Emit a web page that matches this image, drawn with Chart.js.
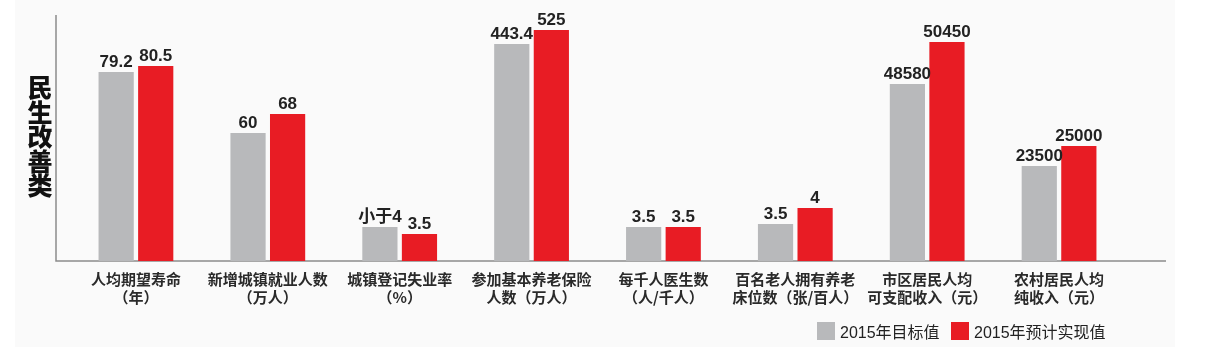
<!DOCTYPE html>
<html>
<head>
<meta charset="utf-8">
<script src="https://cdn.jsdelivr.net/npm/chart.js@4/dist/chart.umd.min.js"></script>
<style>
  html, body { margin: 0; padding: 0; background: #fff; }
  #wrap { position: relative; width: 1221px; height: 347px; }
  #title {
    position: absolute; left: 27px; top: 74px; width: 26px;
    font: 900 25px "Noto Sans CJK SC", sans-serif; line-height: 24.5px;
    color: #111; text-align: center;
  }
  .legend-item { position: absolute; top: 322px; height: 18px; display: flex; align-items: center;
    font: 16px "Liberation Sans", "Noto Sans CJK SC", sans-serif; color: #222; }
  .legend-item span.box { display: inline-block; width: 18px; height: 18px; margin-right: 5px; }
</style>
</head>
<body>
<div id="wrap">
  <canvas id="chart" width="1221" height="347"></canvas>
  <div id="title">民<br>生<br>改<br>善<br>类</div>
  <div class="legend-item" style="left:817px"><span class="box" style="background:#b8b9bb"></span>2015年目标值</div>
  <div class="legend-item" style="left:951px"><span class="box" style="background:#e81c24"></span>2015年预计实现值</div>
</div>
<script>
// categories (two lines each)
const categories = [
  ['人均期望寿命', '（年）'],
  ['新增城镇就业人数', '（万人）'],
  ['城镇登记失业率', '（%）'],
  ['参加基本养老保险', '人数（万人）'],
  ['每千人医生数', '（人/千人）'],
  ['百名老人拥有养老', '床位数（张/百人）'],
  ['市区居民人均', '可支配收入（元）'],
  ['农村居民人均', '纯收入（元）']
];

// value labels shown above the bars
const targetLabels = ['79.2', '60', '小于4', '443.4', '3.5', '3.5', '48580', '23500'];
const actualLabels = ['80.5', '68', '3.5', '525', '3.5', '4', '50450', '25000'];

// bar heights as drawn in the infographic (each category has its own scale; axis 0-246)
const targetHeights = [189, 128, 34, 217, 34, 37, 177, 95];
const actualHeights = [195, 147, 27, 231, 34, 53, 219, 115];

const seriesNames = ['2015年目标值', '2015年预计实现值'];
const GRAY = '#b8b9bb';
const RED = '#e81c24';

// paper background
const bgPlugin = {
  id: 'bg',
  beforeDraw(chart) {
    const ctx = chart.ctx;
    ctx.save();
    ctx.fillStyle = '#fafafa';
    ctx.fillRect(15, 0, 1160, chart.height);
    ctx.restore();
  }
};

// axis lines (y axis sits a bit left of the first group, x axis runs past the last)
const axisPlugin = {
  id: 'axes',
  beforeDatasetsDraw(chart) {
    const { ctx, chartArea } = chart;
    const x0 = chartArea.left - 14;
    ctx.save();
    ctx.strokeStyle = '#8c8c8c';
    ctx.lineWidth = 1.5;
    ctx.beginPath();
    ctx.moveTo(x0, chartArea.top);
    ctx.lineTo(x0, chartArea.bottom);
    ctx.lineTo(chartArea.right + 41, chartArea.bottom);
    ctx.stroke();
    ctx.restore();
  }
};

// value labels on top of bars
const valuePlugin = {
  id: 'values',
  afterDatasetsDraw(chart) {
    const ctx = chart.ctx;
    const labelSets = [targetLabels, actualLabels];
    ctx.save();
    ctx.font = 'bold 17px "Liberation Sans", "Noto Sans CJK SC", sans-serif';
    ctx.fillStyle = '#222';
    ctx.textAlign = 'center';
    ctx.textBaseline = 'alphabetic';
    chart.data.datasets.forEach((ds, di) => {
      chart.getDatasetMeta(di).data.forEach((bar, i) => {
        ctx.fillText(labelSets[di][i], bar.x, bar.y - 5);
      });
    });
    ctx.restore();
  }
};

new Chart(document.getElementById('chart'), {
  type: 'bar',
  data: {
    labels: categories,
    datasets: [
      { label: seriesNames[0], data: targetHeights, backgroundColor: GRAY },
      { label: seriesNames[1], data: actualHeights, backgroundColor: RED }
    ]
  },
  options: {
    responsive: false,
    animation: false,
    layout: { padding: { left: 70, right: 96, top: 15, bottom: 0 } },
    categoryPercentage: 0.6,
    barPercentage: 0.89,
    plugins: {
      legend: { display: false },
      tooltip: { enabled: false }
    },
    scales: {
      x: {
        grid: { display: false, drawTicks: false },
        border: { display: false },
        ticks: {
          autoSkip: false,
          maxRotation: 0,
          padding: 9,
          color: '#2a2a2a',
          font: { family: '"Noto Sans CJK SC", sans-serif', size: 15, weight: 'bold', lineHeight: 1.2 }
        },
        afterFit(scale) { scale.height = 86; }
      },
      y: {
        display: false,
        min: 0,
        max: 246
      }
    }
  },
  plugins: [bgPlugin, axisPlugin, valuePlugin]
});
</script>
</body>
</html>
